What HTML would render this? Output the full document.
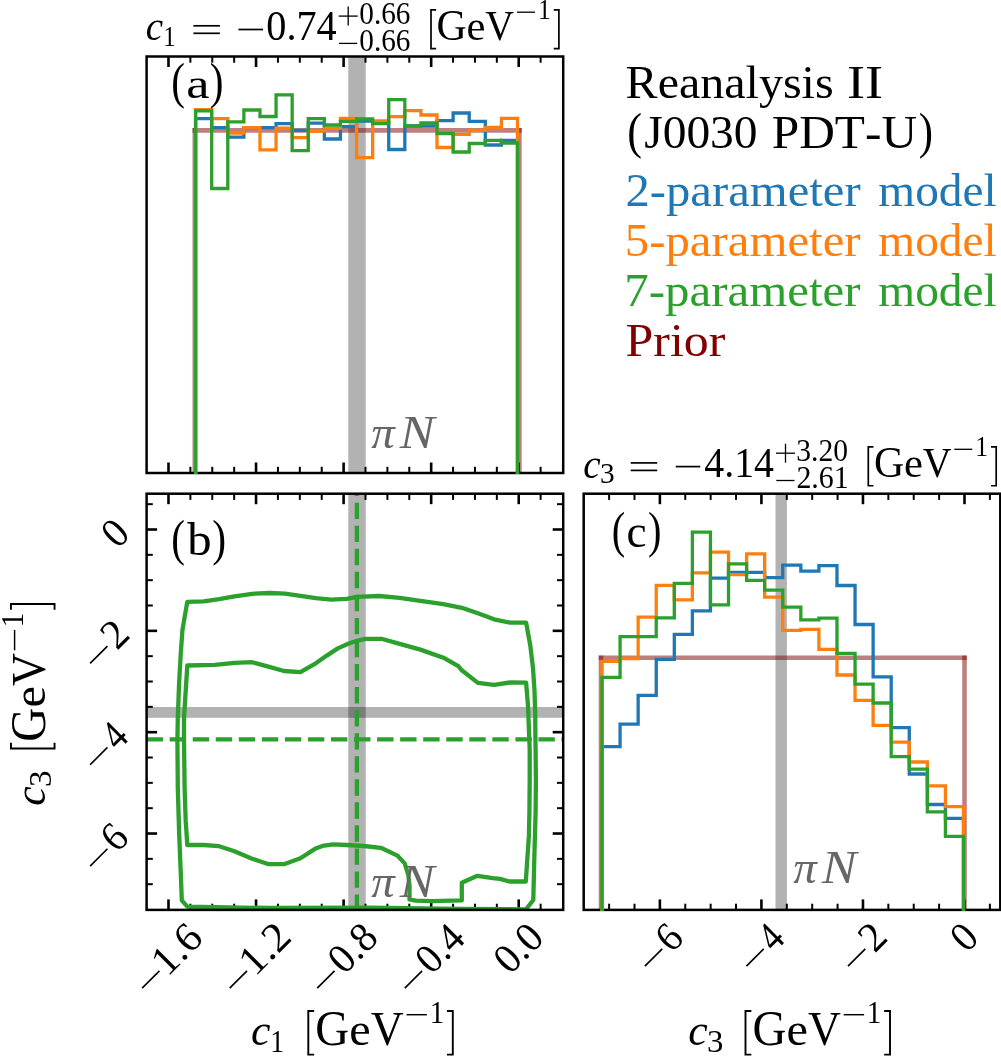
<!DOCTYPE html>
<html><head><meta charset="utf-8"><title>corner plot</title>
<style>html,body{margin:0;padding:0;background:#fff}svg{display:block;will-change:transform}text{font-family:"Liberation Serif",serif;font-kerning:none;white-space:pre}</style></head>
<body>
<svg width="1001" height="1056" viewBox="0 0 1001 1056">
<rect x="0" y="0" width="1001" height="1056" fill="#fff"/>
<defs><clipPath id="ca"><rect x="146.6" y="56.5" width="416.6" height="417.6"/></clipPath><clipPath id="cb"><rect x="146.6" y="493.7" width="416.6" height="416.2"/></clipPath><clipPath id="cc"><rect x="583.7" y="493.7" width="416.5999999999999" height="417.3"/></clipPath></defs>
<rect x="348.3" y="56.5" width="17.4" height="416.5" fill="#000" fill-opacity="0.3"/>
<rect x="348.3" y="493.7" width="17.4" height="416.2" fill="#000" fill-opacity="0.3"/>
<rect x="146.6" y="707.0" width="416.6" height="10.8" fill="#000" fill-opacity="0.3"/>
<rect x="775.5" y="493.7" width="11.4" height="416.2" fill="#000" fill-opacity="0.3"/>
<g clip-path="url(#ca)" stroke="#800000" stroke-opacity="0.5" stroke-width="4.6"><line x1="194.8" y1="473.0" x2="194.8" y2="128.1"/><line x1="192.5" y1="130.4" x2="521.6999999999999" y2="130.4"/><line x1="519.4" y1="473.0" x2="519.4" y2="128.1"/></g>
<g clip-path="url(#cc)" stroke="#800000" stroke-opacity="0.5" stroke-width="4.6"><line x1="601.0" y1="909.9" x2="601.0" y2="655.5"/><line x1="598.7" y1="657.8" x2="966.8" y2="657.8"/><line x1="964.5" y1="909.9" x2="964.5" y2="655.5"/></g>
<line x1="190.38" y1="493.70" x2="190.38" y2="499.90" stroke="#000" stroke-width="2.0"/>
<line x1="190.38" y1="909.90" x2="190.38" y2="903.70" stroke="#000" stroke-width="2.0"/>
<line x1="212.27" y1="493.70" x2="212.27" y2="499.90" stroke="#000" stroke-width="2.0"/>
<line x1="212.27" y1="909.90" x2="212.27" y2="903.70" stroke="#000" stroke-width="2.0"/>
<line x1="234.16" y1="493.70" x2="234.16" y2="499.90" stroke="#000" stroke-width="2.0"/>
<line x1="234.16" y1="909.90" x2="234.16" y2="903.70" stroke="#000" stroke-width="2.0"/>
<line x1="277.94" y1="493.70" x2="277.94" y2="499.90" stroke="#000" stroke-width="2.0"/>
<line x1="277.94" y1="909.90" x2="277.94" y2="903.70" stroke="#000" stroke-width="2.0"/>
<line x1="299.83" y1="493.70" x2="299.83" y2="499.90" stroke="#000" stroke-width="2.0"/>
<line x1="299.83" y1="909.90" x2="299.83" y2="903.70" stroke="#000" stroke-width="2.0"/>
<line x1="321.72" y1="493.70" x2="321.72" y2="499.90" stroke="#000" stroke-width="2.0"/>
<line x1="321.72" y1="909.90" x2="321.72" y2="903.70" stroke="#000" stroke-width="2.0"/>
<line x1="365.50" y1="493.70" x2="365.50" y2="499.90" stroke="#000" stroke-width="2.0"/>
<line x1="365.50" y1="909.90" x2="365.50" y2="903.70" stroke="#000" stroke-width="2.0"/>
<line x1="387.39" y1="493.70" x2="387.39" y2="499.90" stroke="#000" stroke-width="2.0"/>
<line x1="387.39" y1="909.90" x2="387.39" y2="903.70" stroke="#000" stroke-width="2.0"/>
<line x1="409.28" y1="493.70" x2="409.28" y2="499.90" stroke="#000" stroke-width="2.0"/>
<line x1="409.28" y1="909.90" x2="409.28" y2="903.70" stroke="#000" stroke-width="2.0"/>
<line x1="453.06" y1="493.70" x2="453.06" y2="499.90" stroke="#000" stroke-width="2.0"/>
<line x1="453.06" y1="909.90" x2="453.06" y2="903.70" stroke="#000" stroke-width="2.0"/>
<line x1="474.95" y1="493.70" x2="474.95" y2="499.90" stroke="#000" stroke-width="2.0"/>
<line x1="474.95" y1="909.90" x2="474.95" y2="903.70" stroke="#000" stroke-width="2.0"/>
<line x1="496.84" y1="493.70" x2="496.84" y2="499.90" stroke="#000" stroke-width="2.0"/>
<line x1="496.84" y1="909.90" x2="496.84" y2="903.70" stroke="#000" stroke-width="2.0"/>
<line x1="540.62" y1="493.70" x2="540.62" y2="499.90" stroke="#000" stroke-width="2.0"/>
<line x1="540.62" y1="909.90" x2="540.62" y2="903.70" stroke="#000" stroke-width="2.0"/>
<line x1="168.49" y1="493.70" x2="168.49" y2="504.20" stroke="#000" stroke-width="2.6"/>
<line x1="168.49" y1="909.90" x2="168.49" y2="899.40" stroke="#000" stroke-width="2.6"/>
<line x1="256.05" y1="493.70" x2="256.05" y2="504.20" stroke="#000" stroke-width="2.6"/>
<line x1="256.05" y1="909.90" x2="256.05" y2="899.40" stroke="#000" stroke-width="2.6"/>
<line x1="343.61" y1="493.70" x2="343.61" y2="504.20" stroke="#000" stroke-width="2.6"/>
<line x1="343.61" y1="909.90" x2="343.61" y2="899.40" stroke="#000" stroke-width="2.6"/>
<line x1="431.17" y1="493.70" x2="431.17" y2="504.20" stroke="#000" stroke-width="2.6"/>
<line x1="431.17" y1="909.90" x2="431.17" y2="899.40" stroke="#000" stroke-width="2.6"/>
<line x1="518.73" y1="493.70" x2="518.73" y2="504.20" stroke="#000" stroke-width="2.6"/>
<line x1="518.73" y1="909.90" x2="518.73" y2="899.40" stroke="#000" stroke-width="2.6"/>
<line x1="146.60" y1="884.19" x2="152.80" y2="884.19" stroke="#000" stroke-width="2.0"/>
<line x1="563.20" y1="884.19" x2="557.00" y2="884.19" stroke="#000" stroke-width="2.0"/>
<line x1="146.60" y1="858.86" x2="152.80" y2="858.86" stroke="#000" stroke-width="2.0"/>
<line x1="563.20" y1="858.86" x2="557.00" y2="858.86" stroke="#000" stroke-width="2.0"/>
<line x1="146.60" y1="808.18" x2="152.80" y2="808.18" stroke="#000" stroke-width="2.0"/>
<line x1="563.20" y1="808.18" x2="557.00" y2="808.18" stroke="#000" stroke-width="2.0"/>
<line x1="146.60" y1="782.85" x2="152.80" y2="782.85" stroke="#000" stroke-width="2.0"/>
<line x1="563.20" y1="782.85" x2="557.00" y2="782.85" stroke="#000" stroke-width="2.0"/>
<line x1="146.60" y1="757.51" x2="152.80" y2="757.51" stroke="#000" stroke-width="2.0"/>
<line x1="563.20" y1="757.51" x2="557.00" y2="757.51" stroke="#000" stroke-width="2.0"/>
<line x1="146.60" y1="706.85" x2="152.80" y2="706.85" stroke="#000" stroke-width="2.0"/>
<line x1="563.20" y1="706.85" x2="557.00" y2="706.85" stroke="#000" stroke-width="2.0"/>
<line x1="146.60" y1="681.51" x2="152.80" y2="681.51" stroke="#000" stroke-width="2.0"/>
<line x1="563.20" y1="681.51" x2="557.00" y2="681.51" stroke="#000" stroke-width="2.0"/>
<line x1="146.60" y1="656.17" x2="152.80" y2="656.17" stroke="#000" stroke-width="2.0"/>
<line x1="563.20" y1="656.17" x2="557.00" y2="656.17" stroke="#000" stroke-width="2.0"/>
<line x1="146.60" y1="605.50" x2="152.80" y2="605.50" stroke="#000" stroke-width="2.0"/>
<line x1="563.20" y1="605.50" x2="557.00" y2="605.50" stroke="#000" stroke-width="2.0"/>
<line x1="146.60" y1="580.17" x2="152.80" y2="580.17" stroke="#000" stroke-width="2.0"/>
<line x1="563.20" y1="580.17" x2="557.00" y2="580.17" stroke="#000" stroke-width="2.0"/>
<line x1="146.60" y1="554.84" x2="152.80" y2="554.84" stroke="#000" stroke-width="2.0"/>
<line x1="563.20" y1="554.84" x2="557.00" y2="554.84" stroke="#000" stroke-width="2.0"/>
<line x1="146.60" y1="504.17" x2="152.80" y2="504.17" stroke="#000" stroke-width="2.0"/>
<line x1="563.20" y1="504.17" x2="557.00" y2="504.17" stroke="#000" stroke-width="2.0"/>
<line x1="146.60" y1="833.52" x2="157.10" y2="833.52" stroke="#000" stroke-width="2.6"/>
<line x1="563.20" y1="833.52" x2="552.70" y2="833.52" stroke="#000" stroke-width="2.6"/>
<line x1="146.60" y1="732.18" x2="157.10" y2="732.18" stroke="#000" stroke-width="2.6"/>
<line x1="563.20" y1="732.18" x2="552.70" y2="732.18" stroke="#000" stroke-width="2.6"/>
<line x1="146.60" y1="630.84" x2="157.10" y2="630.84" stroke="#000" stroke-width="2.6"/>
<line x1="563.20" y1="630.84" x2="552.70" y2="630.84" stroke="#000" stroke-width="2.6"/>
<line x1="146.60" y1="529.50" x2="157.10" y2="529.50" stroke="#000" stroke-width="2.6"/>
<line x1="563.20" y1="529.50" x2="552.70" y2="529.50" stroke="#000" stroke-width="2.6"/>
<polygon points="187.3,601.8 203.7,601.3 219.1,599.1 234.5,596.3 252.1,593.8 269.7,593.0 285.0,593.6 300.4,595.8 315.8,598.2 331.2,599.6 346.6,598.9 357.2,596.8 379.0,596.0 399.7,597.9 420.4,600.9 443.4,604.1 461.8,607.8 477.9,613.3 494.0,619.3 510.0,622.7 526.1,622.6 530.3,645.5 533.0,668.2 534.5,690.9 535.2,713.6 535.4,736.4 535.6,750.0 535.9,781.3 535.6,812.5 534.7,843.8 533.9,875.0 533.3,900.0 526.0,909.3 460.0,909.0 370.0,907.7 270.0,908.0 187.3,906.7 181.8,900.4 180.7,871.4 179.1,831.9 177.8,787.9 177.4,739.6 177.8,718.0 179.1,683.0 180.7,654.5 182.4,630.3 185.0,615.0" fill="none" stroke="#2ca02c" stroke-width="4.3" stroke-linejoin="round" clip-path="url(#cb)"/>
<polygon points="187.3,665.5 214.7,664.8 234.5,662.9 252.1,662.2 267.5,666.4 284.0,671.0 300.4,672.1 315.8,663.3 326.8,655.6 337.8,648.4 348.8,643.5 357.0,640.8 365.3,638.8 381.4,638.8 399.7,643.9 420.4,649.6 443.4,657.7 458.3,666.2 461.8,670.3 477.9,682.9 494.0,684.8 510.0,682.5 526.1,682.6 528.0,706.0 529.2,736.4 529.7,750.0 529.7,781.3 529.4,812.5 528.9,835.9 527.3,859.4 525.8,881.5 509.4,881.5 500.0,878.9 492.8,878.1 477.4,875.8 461.8,882.7 461.8,900.4 431.9,901.2 415.8,900.6 409.5,899.4 409.5,885.6 408.3,874.8 404.7,863.4 397.5,855.6 380.8,847.8 364.0,846.0 346.6,845.0 333.4,844.4 322.4,845.9 315.8,848.4 300.4,858.2 284.0,864.2 268.6,864.2 252.1,858.7 234.5,851.2 219.1,846.2 203.7,845.0 187.3,845.0 185.7,820.9 184.6,787.9 184.0,739.6 184.0,718.0 186.2,683.0" fill="none" stroke="#2ca02c" stroke-width="4.3" stroke-linejoin="round" clip-path="url(#cb)"/>
<line x1="356.9" y1="910.9" x2="356.9" y2="493.7" stroke="#2ca02c" stroke-width="4.3" stroke-dasharray="16.4 6.65"/>
<line x1="146.6" y1="739.3" x2="563.2" y2="739.3" stroke="#2ca02c" stroke-width="4.3" stroke-dasharray="16.4 6.65"/>
<line x1="190.38" y1="56.50" x2="190.38" y2="62.70" stroke="#000" stroke-width="2.0"/>
<line x1="190.38" y1="473.00" x2="190.38" y2="466.80" stroke="#000" stroke-width="2.0"/>
<line x1="212.27" y1="56.50" x2="212.27" y2="62.70" stroke="#000" stroke-width="2.0"/>
<line x1="212.27" y1="473.00" x2="212.27" y2="466.80" stroke="#000" stroke-width="2.0"/>
<line x1="234.16" y1="56.50" x2="234.16" y2="62.70" stroke="#000" stroke-width="2.0"/>
<line x1="234.16" y1="473.00" x2="234.16" y2="466.80" stroke="#000" stroke-width="2.0"/>
<line x1="277.94" y1="56.50" x2="277.94" y2="62.70" stroke="#000" stroke-width="2.0"/>
<line x1="277.94" y1="473.00" x2="277.94" y2="466.80" stroke="#000" stroke-width="2.0"/>
<line x1="299.83" y1="56.50" x2="299.83" y2="62.70" stroke="#000" stroke-width="2.0"/>
<line x1="299.83" y1="473.00" x2="299.83" y2="466.80" stroke="#000" stroke-width="2.0"/>
<line x1="321.72" y1="56.50" x2="321.72" y2="62.70" stroke="#000" stroke-width="2.0"/>
<line x1="321.72" y1="473.00" x2="321.72" y2="466.80" stroke="#000" stroke-width="2.0"/>
<line x1="365.50" y1="56.50" x2="365.50" y2="62.70" stroke="#000" stroke-width="2.0"/>
<line x1="365.50" y1="473.00" x2="365.50" y2="466.80" stroke="#000" stroke-width="2.0"/>
<line x1="387.39" y1="56.50" x2="387.39" y2="62.70" stroke="#000" stroke-width="2.0"/>
<line x1="387.39" y1="473.00" x2="387.39" y2="466.80" stroke="#000" stroke-width="2.0"/>
<line x1="409.28" y1="56.50" x2="409.28" y2="62.70" stroke="#000" stroke-width="2.0"/>
<line x1="409.28" y1="473.00" x2="409.28" y2="466.80" stroke="#000" stroke-width="2.0"/>
<line x1="453.06" y1="56.50" x2="453.06" y2="62.70" stroke="#000" stroke-width="2.0"/>
<line x1="453.06" y1="473.00" x2="453.06" y2="466.80" stroke="#000" stroke-width="2.0"/>
<line x1="474.95" y1="56.50" x2="474.95" y2="62.70" stroke="#000" stroke-width="2.0"/>
<line x1="474.95" y1="473.00" x2="474.95" y2="466.80" stroke="#000" stroke-width="2.0"/>
<line x1="496.84" y1="56.50" x2="496.84" y2="62.70" stroke="#000" stroke-width="2.0"/>
<line x1="496.84" y1="473.00" x2="496.84" y2="466.80" stroke="#000" stroke-width="2.0"/>
<line x1="540.62" y1="56.50" x2="540.62" y2="62.70" stroke="#000" stroke-width="2.0"/>
<line x1="540.62" y1="473.00" x2="540.62" y2="466.80" stroke="#000" stroke-width="2.0"/>
<line x1="168.49" y1="56.50" x2="168.49" y2="67.00" stroke="#000" stroke-width="2.6"/>
<line x1="168.49" y1="473.00" x2="168.49" y2="462.50" stroke="#000" stroke-width="2.6"/>
<line x1="256.05" y1="56.50" x2="256.05" y2="67.00" stroke="#000" stroke-width="2.6"/>
<line x1="256.05" y1="473.00" x2="256.05" y2="462.50" stroke="#000" stroke-width="2.6"/>
<line x1="343.61" y1="56.50" x2="343.61" y2="67.00" stroke="#000" stroke-width="2.6"/>
<line x1="343.61" y1="473.00" x2="343.61" y2="462.50" stroke="#000" stroke-width="2.6"/>
<line x1="431.17" y1="56.50" x2="431.17" y2="67.00" stroke="#000" stroke-width="2.6"/>
<line x1="431.17" y1="473.00" x2="431.17" y2="462.50" stroke="#000" stroke-width="2.6"/>
<line x1="518.73" y1="56.50" x2="518.73" y2="67.00" stroke="#000" stroke-width="2.6"/>
<line x1="518.73" y1="473.00" x2="518.73" y2="462.50" stroke="#000" stroke-width="2.6"/>
<line x1="609.11" y1="493.70" x2="609.11" y2="499.90" stroke="#000" stroke-width="2.0"/>
<line x1="609.11" y1="909.90" x2="609.11" y2="903.70" stroke="#000" stroke-width="2.0"/>
<line x1="634.50" y1="493.70" x2="634.50" y2="499.90" stroke="#000" stroke-width="2.0"/>
<line x1="634.50" y1="909.90" x2="634.50" y2="903.70" stroke="#000" stroke-width="2.0"/>
<line x1="685.26" y1="493.70" x2="685.26" y2="499.90" stroke="#000" stroke-width="2.0"/>
<line x1="685.26" y1="909.90" x2="685.26" y2="903.70" stroke="#000" stroke-width="2.0"/>
<line x1="710.65" y1="493.70" x2="710.65" y2="499.90" stroke="#000" stroke-width="2.0"/>
<line x1="710.65" y1="909.90" x2="710.65" y2="903.70" stroke="#000" stroke-width="2.0"/>
<line x1="736.03" y1="493.70" x2="736.03" y2="499.90" stroke="#000" stroke-width="2.0"/>
<line x1="736.03" y1="909.90" x2="736.03" y2="903.70" stroke="#000" stroke-width="2.0"/>
<line x1="786.80" y1="493.70" x2="786.80" y2="499.90" stroke="#000" stroke-width="2.0"/>
<line x1="786.80" y1="909.90" x2="786.80" y2="903.70" stroke="#000" stroke-width="2.0"/>
<line x1="812.19" y1="493.70" x2="812.19" y2="499.90" stroke="#000" stroke-width="2.0"/>
<line x1="812.19" y1="909.90" x2="812.19" y2="903.70" stroke="#000" stroke-width="2.0"/>
<line x1="837.58" y1="493.70" x2="837.58" y2="499.90" stroke="#000" stroke-width="2.0"/>
<line x1="837.58" y1="909.90" x2="837.58" y2="903.70" stroke="#000" stroke-width="2.0"/>
<line x1="888.35" y1="493.70" x2="888.35" y2="499.90" stroke="#000" stroke-width="2.0"/>
<line x1="888.35" y1="909.90" x2="888.35" y2="903.70" stroke="#000" stroke-width="2.0"/>
<line x1="913.73" y1="493.70" x2="913.73" y2="499.90" stroke="#000" stroke-width="2.0"/>
<line x1="913.73" y1="909.90" x2="913.73" y2="903.70" stroke="#000" stroke-width="2.0"/>
<line x1="939.12" y1="493.70" x2="939.12" y2="499.90" stroke="#000" stroke-width="2.0"/>
<line x1="939.12" y1="909.90" x2="939.12" y2="903.70" stroke="#000" stroke-width="2.0"/>
<line x1="989.88" y1="493.70" x2="989.88" y2="499.90" stroke="#000" stroke-width="2.0"/>
<line x1="989.88" y1="909.90" x2="989.88" y2="903.70" stroke="#000" stroke-width="2.0"/>
<line x1="659.88" y1="493.70" x2="659.88" y2="504.20" stroke="#000" stroke-width="2.6"/>
<line x1="659.88" y1="909.90" x2="659.88" y2="899.40" stroke="#000" stroke-width="2.6"/>
<line x1="761.42" y1="493.70" x2="761.42" y2="504.20" stroke="#000" stroke-width="2.6"/>
<line x1="761.42" y1="909.90" x2="761.42" y2="899.40" stroke="#000" stroke-width="2.6"/>
<line x1="862.96" y1="493.70" x2="862.96" y2="504.20" stroke="#000" stroke-width="2.6"/>
<line x1="862.96" y1="909.90" x2="862.96" y2="899.40" stroke="#000" stroke-width="2.6"/>
<line x1="964.50" y1="493.70" x2="964.50" y2="504.20" stroke="#000" stroke-width="2.6"/>
<line x1="964.50" y1="909.90" x2="964.50" y2="899.40" stroke="#000" stroke-width="2.6"/>
<rect x="146.6" y="56.5" width="416.6" height="416.5" fill="none" stroke="#000" stroke-width="2.5"/>
<rect x="146.6" y="493.7" width="416.6" height="416.2" fill="none" stroke="#000" stroke-width="2.5"/>
<rect x="583.7" y="493.7" width="416.5999999999999" height="416.2" fill="none" stroke="#000" stroke-width="2.5"/>
<polyline points="195.60,476.00 195.60,118.70 211.69,118.70 211.69,127.70 227.79,127.70 227.79,137.20 243.88,137.20 243.88,127.70 259.98,127.70 259.98,127.70 276.07,127.70 276.07,123.70 292.17,123.70 292.17,130.40 308.26,130.40 308.26,123.20 324.36,123.20 324.36,139.00 340.45,139.00 340.45,126.70 356.55,126.70 356.55,121.00 372.64,121.00 372.64,123.00 388.74,123.00 388.74,149.50 404.83,149.50 404.83,126.00 420.93,126.00 420.93,126.00 437.02,126.00 437.02,120.60 453.12,120.60 453.12,113.00 469.22,113.00 469.22,121.40 485.31,121.40 485.31,145.00 501.40,145.00 501.40,140.50 517.50,140.50 517.50,476.00" fill="none" stroke="#1f77b4" stroke-width="3.3" stroke-linejoin="miter" clip-path="url(#ca)"/>
<polyline points="195.60,476.00 195.60,109.70 211.69,109.70 211.69,118.70 227.79,118.70 227.79,133.00 243.88,133.00 243.88,127.70 259.98,127.70 259.98,149.80 276.07,149.80 276.07,128.20 292.17,128.20 292.17,137.60 308.26,137.60 308.26,131.00 324.36,131.00 324.36,128.20 340.45,128.20 340.45,118.30 356.55,118.30 356.55,157.60 372.64,157.60 372.64,121.00 388.74,121.00 388.74,116.60 404.83,116.60 404.83,110.60 420.93,110.60 420.93,115.00 437.02,115.00 437.02,147.50 453.12,147.50 453.12,134.30 469.22,134.30 469.22,130.30 485.31,130.30 485.31,127.40 501.40,127.40 501.40,118.40 517.50,118.40 517.50,476.00" fill="none" stroke="#ff7f0e" stroke-width="3.3" stroke-linejoin="miter" clip-path="url(#ca)"/>
<polyline points="195.60,476.00 195.60,110.90 211.69,110.90 211.69,188.50 227.79,188.50 227.79,121.90 243.88,121.90 243.88,110.00 259.98,110.00 259.98,116.50 276.07,116.50 276.07,94.80 292.17,94.80 292.17,150.70 308.26,150.70 308.26,118.70 324.36,118.70 324.36,125.00 340.45,125.00 340.45,121.40 356.55,121.40 356.55,119.00 372.64,119.00 372.64,123.60 388.74,123.60 388.74,99.60 404.83,99.60 404.83,126.00 420.93,126.00 420.93,123.00 437.02,123.00 437.02,133.50 453.12,133.50 453.12,152.00 469.22,152.00 469.22,143.50 485.31,143.50 485.31,140.30 501.40,140.30 501.40,143.00 517.50,143.00 517.50,476.00" fill="none" stroke="#2ca02c" stroke-width="3.3" stroke-linejoin="miter" clip-path="url(#ca)"/>
<polyline points="602.00,912.90 602.00,746.60 620.08,746.60 620.08,724.10 638.15,724.10 638.15,695.30 656.23,695.30 656.23,659.40 674.30,659.40 674.30,634.40 692.38,634.40 692.38,610.90 710.45,610.90 710.45,578.10 728.52,578.10 728.52,572.30 746.60,572.30 746.60,572.30 764.67,572.30 764.67,577.60 782.75,577.60 782.75,565.10 800.83,565.10 800.83,571.10 818.90,571.10 818.90,565.60 836.98,565.60 836.98,585.50 855.05,585.50 855.05,624.50 873.12,624.50 873.12,676.80 891.20,676.80 891.20,727.60 909.27,727.60 909.27,774.00 927.35,774.00 927.35,804.50 945.42,804.50 945.42,818.30 963.50,818.30 963.50,912.90" fill="none" stroke="#1f77b4" stroke-width="3.3" stroke-linejoin="miter" clip-path="url(#cc)"/>
<polyline points="602.00,912.90 602.00,661.30 620.08,661.30 620.08,658.50 638.15,658.50 638.15,617.10 656.23,617.10 656.23,585.40 674.30,585.40 674.30,599.90 692.38,599.90 692.38,572.80 710.45,572.80 710.45,552.10 728.52,552.10 728.52,574.60 746.60,574.60 746.60,553.90 764.67,553.90 764.67,597.10 782.75,597.10 782.75,630.40 800.83,630.40 800.83,629.40 818.90,629.40 818.90,649.40 836.98,649.40 836.98,675.00 855.05,675.00 855.05,700.40 873.12,700.40 873.12,725.40 891.20,725.40 891.20,742.10 909.27,742.10 909.27,762.00 927.35,762.00 927.35,785.90 945.42,785.90 945.42,806.60 963.50,806.60 963.50,912.90" fill="none" stroke="#ff7f0e" stroke-width="3.3" stroke-linejoin="miter" clip-path="url(#cc)"/>
<polyline points="602.00,912.90 602.00,677.30 620.08,677.30 620.08,636.70 638.15,636.70 638.15,636.70 656.23,636.70 656.23,617.80 674.30,617.80 674.30,583.30 692.38,583.30 692.38,532.10 710.45,532.10 710.45,604.90 728.52,604.90 728.52,563.80 746.60,563.80 746.60,580.40 764.67,580.40 764.67,590.20 782.75,590.20 782.75,607.20 800.83,607.20 800.83,619.90 818.90,619.90 818.90,618.10 836.98,618.10 836.98,653.30 855.05,653.30 855.05,684.10 873.12,684.10 873.12,703.00 891.20,703.00 891.20,756.70 909.27,756.70 909.27,769.20 927.35,769.20 927.35,811.90 945.42,811.90 945.42,836.30 963.50,836.30 963.50,912.90" fill="none" stroke="#2ca02c" stroke-width="3.3" stroke-linejoin="miter" clip-path="url(#cc)"/>
<text x="625.62" y="98.40" font-size="46.31" fill="#000" textLength="208.02" lengthAdjust="spacingAndGlyphs">Reanalysis</text>
<text x="846.94" y="98.40" font-size="46.31" fill="#000" textLength="36.06" lengthAdjust="spacingAndGlyphs">II</text>
<text x="627.35" y="148.20" font-size="49.94" fill="#000" textLength="14.78" lengthAdjust="spacingAndGlyphs">(</text>
<text x="644.20" y="148.00" font-size="46.76" fill="#000" textLength="113.40" lengthAdjust="spacingAndGlyphs">J0030</text>
<text x="771.78" y="148.00" font-size="46.76" fill="#000" textLength="145.26" lengthAdjust="spacingAndGlyphs">PDT-U</text>
<text x="918.72" y="148.20" font-size="49.94" fill="#000" textLength="14.26" lengthAdjust="spacingAndGlyphs">)</text>
<text x="625.46" y="206.40" font-size="46.31" fill="#1f77b4" textLength="235.17" lengthAdjust="spacingAndGlyphs">2-parameter</text>
<text x="878.31" y="206.40" font-size="46.31" fill="#1f77b4" textLength="118.44" lengthAdjust="spacingAndGlyphs">model</text>
<text x="624.76" y="255.90" font-size="46.31" fill="#ff7f0e" textLength="235.87" lengthAdjust="spacingAndGlyphs">5-parameter</text>
<text x="878.31" y="255.90" font-size="46.31" fill="#ff7f0e" textLength="118.44" lengthAdjust="spacingAndGlyphs">model</text>
<text x="624.38" y="305.90" font-size="46.31" fill="#2ca02c" textLength="236.25" lengthAdjust="spacingAndGlyphs">7-parameter</text>
<text x="878.31" y="305.90" font-size="46.31" fill="#2ca02c" textLength="118.44" lengthAdjust="spacingAndGlyphs">model</text>
<text x="625.56" y="355.80" font-size="46.31" fill="#800000" textLength="99.78" lengthAdjust="spacingAndGlyphs">Prior</text>
<text x="171.29" y="98.20" font-size="49.94" fill="#000" textLength="13.74" lengthAdjust="spacingAndGlyphs">(</text>
<text x="186.16" y="98.00" font-size="43.13" fill="#000" textLength="23.26" lengthAdjust="spacingAndGlyphs">a</text>
<text x="209.87" y="98.20" font-size="49.94" fill="#000" textLength="13.74" lengthAdjust="spacingAndGlyphs">)</text>
<text x="171.29" y="554.90" font-size="49.94" fill="#000" textLength="13.74" lengthAdjust="spacingAndGlyphs">(</text>
<text x="187.20" y="554.70" font-size="45.40" fill="#000" textLength="24.36" lengthAdjust="spacingAndGlyphs">b</text>
<text x="212.36" y="554.90" font-size="49.94" fill="#000" textLength="13.87" lengthAdjust="spacingAndGlyphs">)</text>
<text x="611.72" y="546.70" font-size="49.94" fill="#000" textLength="13.48" lengthAdjust="spacingAndGlyphs">(</text>
<text x="626.47" y="546.50" font-size="45.40" fill="#000" textLength="20.12" lengthAdjust="spacingAndGlyphs">c</text>
<text x="647.90" y="546.70" font-size="49.94" fill="#000" textLength="13.48" lengthAdjust="spacingAndGlyphs">)</text>
<text x="371.15" y="447.70" font-size="46.31" font-style="italic" fill="#666" textLength="23.48" lengthAdjust="spacingAndGlyphs">π</text>
<text x="399.68" y="447.70" font-size="46.31" font-style="italic" fill="#666" textLength="34.80" lengthAdjust="spacingAndGlyphs">N</text>
<text x="371.15" y="897.30" font-size="46.31" font-style="italic" fill="#666" textLength="23.48" lengthAdjust="spacingAndGlyphs">π</text>
<text x="399.68" y="897.30" font-size="46.31" font-style="italic" fill="#666" textLength="34.80" lengthAdjust="spacingAndGlyphs">N</text>
<text x="793.15" y="882.80" font-size="46.31" font-style="italic" fill="#666" textLength="23.48" lengthAdjust="spacingAndGlyphs">π</text>
<text x="821.68" y="882.80" font-size="46.31" font-style="italic" fill="#666" textLength="34.80" lengthAdjust="spacingAndGlyphs">N</text>
<text x="250.95" y="1044.60" font-size="44.04" font-style="italic" fill="#000" textLength="19.48" lengthAdjust="spacingAndGlyphs">c</text>
<text x="270.31" y="1051.50" font-size="32.42" fill="#000" textLength="13.89" lengthAdjust="spacingAndGlyphs">1</text>
<path d="M314.15,1011.05 H308.30 V1054.65 H314.15" fill="none" stroke="#000" stroke-width="1.91"/>
<path d="M446.95,1011.05 H452.80 V1054.65 H446.95" fill="none" stroke="#000" stroke-width="1.91"/>
<text x="315.18" y="1045.10" font-size="49.94" fill="#000" textLength="33.89" lengthAdjust="spacingAndGlyphs">G</text>
<text x="349.31" y="1044.80" font-size="45.40" fill="#000" textLength="21.47" lengthAdjust="spacingAndGlyphs">e</text>
<text x="370.79" y="1045.10" font-size="48.12" fill="#000" textLength="32.92" lengthAdjust="spacingAndGlyphs">V</text>
<line x1="406.50" y1="1014.70" x2="426.90" y2="1014.70" stroke="#000" stroke-width="1.468236"/>
<text x="429.65" y="1022.80" font-size="32.42" fill="#000" textLength="14.49" lengthAdjust="spacingAndGlyphs">1</text>
<text x="688.15" y="1044.60" font-size="44.04" font-style="italic" fill="#000" textLength="19.48" lengthAdjust="spacingAndGlyphs">c</text>
<text x="706.99" y="1051.50" font-size="32.42" fill="#000" textLength="16.43" lengthAdjust="spacingAndGlyphs">3</text>
<path d="M751.35,1011.05 H745.50 V1054.65 H751.35" fill="none" stroke="#000" stroke-width="1.91"/>
<path d="M884.15,1011.05 H890.00 V1054.65 H884.15" fill="none" stroke="#000" stroke-width="1.91"/>
<text x="752.38" y="1045.10" font-size="49.94" fill="#000" textLength="33.89" lengthAdjust="spacingAndGlyphs">G</text>
<text x="786.51" y="1044.80" font-size="45.40" fill="#000" textLength="21.47" lengthAdjust="spacingAndGlyphs">e</text>
<text x="807.99" y="1045.10" font-size="48.12" fill="#000" textLength="32.92" lengthAdjust="spacingAndGlyphs">V</text>
<line x1="843.70" y1="1014.70" x2="864.10" y2="1014.70" stroke="#000" stroke-width="1.468236"/>
<text x="866.85" y="1022.80" font-size="32.42" fill="#000" textLength="14.49" lengthAdjust="spacingAndGlyphs">1</text>
<g transform="translate(44.5,804.8) rotate(-90)">
<text x="-1.05" y="0.00" font-size="44.04" font-style="italic" fill="#000" textLength="19.48" lengthAdjust="spacingAndGlyphs">c</text>
<text x="17.79" y="6.90" font-size="32.42" fill="#000" textLength="16.43" lengthAdjust="spacingAndGlyphs">3</text>
<path d="M62.15,-33.55 H56.30 V10.05 H62.15" fill="none" stroke="#000" stroke-width="1.91"/>
<path d="M194.95,-33.55 H200.80 V10.05 H194.95" fill="none" stroke="#000" stroke-width="1.91"/>
<text x="63.18" y="0.50" font-size="49.94" fill="#000" textLength="33.89" lengthAdjust="spacingAndGlyphs">G</text>
<text x="97.31" y="0.20" font-size="45.40" fill="#000" textLength="21.47" lengthAdjust="spacingAndGlyphs">e</text>
<text x="118.79" y="0.50" font-size="48.12" fill="#000" textLength="32.92" lengthAdjust="spacingAndGlyphs">V</text>
<line x1="154.50" y1="-29.90" x2="174.90" y2="-29.90" stroke="#000" stroke-width="1.468236"/>
<text x="177.65" y="-21.80" font-size="32.42" fill="#000" textLength="14.49" lengthAdjust="spacingAndGlyphs">1</text>
</g>
<text x="145.86" y="40.40" font-size="39.28" font-style="italic" fill="#000" textLength="17.38" lengthAdjust="spacingAndGlyphs">c</text>
<text x="163.14" y="45.56" font-size="28.92" fill="#000" textLength="12.39" lengthAdjust="spacingAndGlyphs">1</text>
<line x1="193.40" y1="25.80" x2="219.90" y2="25.80" stroke="#000" stroke-width="1.701"/>
<line x1="193.40" y1="33.30" x2="219.90" y2="33.30" stroke="#000" stroke-width="1.701"/>
<line x1="238.40" y1="29.50" x2="263.00" y2="29.50" stroke="#000" stroke-width="1.701"/>
<text x="266.27" y="40.10" font-size="42.12" fill="#000" textLength="70.46" lengthAdjust="spacingAndGlyphs">0.74</text>
<line x1="338.70" y1="16.10" x2="357.70" y2="16.10" stroke="#000" stroke-width="1.3097699999999999"/>
<line x1="348.20" y1="6.60" x2="348.20" y2="25.60" stroke="#000" stroke-width="1.3097699999999999"/>
<text x="359.29" y="23.90" font-size="30.90" fill="#000" textLength="51.19" lengthAdjust="spacingAndGlyphs">0.66</text>
<line x1="339.00" y1="43.40" x2="357.20" y2="43.40" stroke="#000" stroke-width="1.3097699999999999"/>
<text x="359.29" y="51.00" font-size="30.90" fill="#000" textLength="51.19" lengthAdjust="spacingAndGlyphs">0.66</text>
<path d="M436.15,9.85 H431.00 V48.65 H436.15" fill="none" stroke="#000" stroke-width="1.70"/>
<path d="M553.75,9.85 H558.90 V48.65 H553.75" fill="none" stroke="#000" stroke-width="1.70"/>
<text x="436.58" y="39.90" font-size="44.55" fill="#000" textLength="30.22" lengthAdjust="spacingAndGlyphs">G</text>
<text x="466.63" y="39.60" font-size="40.50" fill="#000" textLength="18.95" lengthAdjust="spacingAndGlyphs">e</text>
<text x="485.35" y="39.90" font-size="42.93" fill="#000" textLength="28.80" lengthAdjust="spacingAndGlyphs">V</text>
<line x1="517.00" y1="12.20" x2="535.00" y2="12.20" stroke="#000" stroke-width="1.3097699999999999"/>
<text x="537.95" y="18.70" font-size="28.92" fill="#000" textLength="12.78" lengthAdjust="spacingAndGlyphs">1</text>
<text x="583.16" y="477.50" font-size="39.28" font-style="italic" fill="#000" textLength="17.38" lengthAdjust="spacingAndGlyphs">c</text>
<text x="599.97" y="482.66" font-size="28.92" fill="#000" textLength="14.65" lengthAdjust="spacingAndGlyphs">3</text>
<line x1="630.70" y1="462.90" x2="657.20" y2="462.90" stroke="#000" stroke-width="1.701"/>
<line x1="630.70" y1="470.40" x2="657.20" y2="470.40" stroke="#000" stroke-width="1.701"/>
<line x1="675.70" y1="466.60" x2="700.30" y2="466.60" stroke="#000" stroke-width="1.701"/>
<text x="704.32" y="477.20" font-size="42.12" fill="#000" textLength="69.70" lengthAdjust="spacingAndGlyphs">4.14</text>
<line x1="776.00" y1="453.20" x2="795.00" y2="453.20" stroke="#000" stroke-width="1.3097699999999999"/>
<line x1="785.50" y1="443.70" x2="785.50" y2="462.70" stroke="#000" stroke-width="1.3097699999999999"/>
<text x="796.29" y="461.00" font-size="30.90" fill="#000" textLength="51.74" lengthAdjust="spacingAndGlyphs">3.20</text>
<line x1="776.30" y1="480.50" x2="794.50" y2="480.50" stroke="#000" stroke-width="1.3097699999999999"/>
<text x="796.39" y="488.10" font-size="30.90" fill="#000" textLength="52.31" lengthAdjust="spacingAndGlyphs">2.61</text>
<path d="M873.45,446.95 H868.30 V485.75 H873.45" fill="none" stroke="#000" stroke-width="1.70"/>
<path d="M991.05,446.95 H996.20 V485.75 H991.05" fill="none" stroke="#000" stroke-width="1.70"/>
<text x="873.88" y="477.00" font-size="44.55" fill="#000" textLength="30.22" lengthAdjust="spacingAndGlyphs">G</text>
<text x="903.93" y="476.70" font-size="40.50" fill="#000" textLength="18.95" lengthAdjust="spacingAndGlyphs">e</text>
<text x="922.65" y="477.00" font-size="42.93" fill="#000" textLength="28.80" lengthAdjust="spacingAndGlyphs">V</text>
<line x1="954.30" y1="449.30" x2="972.30" y2="449.30" stroke="#000" stroke-width="1.3097699999999999"/>
<text x="975.25" y="455.80" font-size="28.92" fill="#000" textLength="12.78" lengthAdjust="spacingAndGlyphs">1</text>
<g transform="translate(146.99,997.70) rotate(-45)">
<line x1="3.30" y1="-10.20" x2="27.80" y2="-10.20" stroke="#000" stroke-width="1.62"/>
<text x="29.10" y="0.00" font-size="41.72" fill="#000" textLength="52.66" lengthAdjust="spacingAndGlyphs">1.6</text>
</g>
<g transform="translate(234.55,997.70) rotate(-45)">
<line x1="3.30" y1="-10.20" x2="27.80" y2="-10.20" stroke="#000" stroke-width="1.62"/>
<text x="29.01" y="0.00" font-size="41.72" fill="#000" textLength="53.87" lengthAdjust="spacingAndGlyphs">1.2</text>
</g>
<g transform="translate(322.11,997.70) rotate(-45)">
<line x1="3.30" y1="-10.20" x2="27.80" y2="-10.20" stroke="#000" stroke-width="1.62"/>
<text x="31.25" y="0.00" font-size="41.72" fill="#000" textLength="50.80" lengthAdjust="spacingAndGlyphs">0.8</text>
</g>
<g transform="translate(409.67,997.70) rotate(-45)">
<line x1="3.30" y1="-10.20" x2="27.80" y2="-10.20" stroke="#000" stroke-width="1.62"/>
<text x="31.28" y="0.00" font-size="41.72" fill="#000" textLength="49.84" lengthAdjust="spacingAndGlyphs">0.4</text>
</g>
<g transform="translate(509.78,975.70) rotate(-45)">
<text x="0.15" y="0.00" font-size="41.72" fill="#000" textLength="50.80" lengthAdjust="spacingAndGlyphs">0.0</text>
</g>
<g transform="translate(649.78,975.70) rotate(-45)">
<line x1="3.30" y1="-10.20" x2="27.80" y2="-10.20" stroke="#000" stroke-width="1.62"/>
<text x="31.13" y="0.00" font-size="41.72" fill="#000" textLength="19.43" lengthAdjust="spacingAndGlyphs">6</text>
</g>
<g transform="translate(95.00,875.62) rotate(-45)">
<line x1="3.30" y1="-10.20" x2="27.80" y2="-10.20" stroke="#000" stroke-width="1.62"/>
<text x="31.13" y="0.00" font-size="41.72" fill="#000" textLength="19.43" lengthAdjust="spacingAndGlyphs">6</text>
</g>
<g transform="translate(751.32,975.70) rotate(-45)">
<line x1="3.30" y1="-10.20" x2="27.80" y2="-10.20" stroke="#000" stroke-width="1.62"/>
<text x="32.10" y="0.00" font-size="41.72" fill="#000" textLength="17.86" lengthAdjust="spacingAndGlyphs">4</text>
</g>
<g transform="translate(95.00,774.28) rotate(-45)">
<line x1="3.30" y1="-10.20" x2="27.80" y2="-10.20" stroke="#000" stroke-width="1.62"/>
<text x="32.10" y="0.00" font-size="41.72" fill="#000" textLength="17.86" lengthAdjust="spacingAndGlyphs">4</text>
</g>
<g transform="translate(852.86,975.70) rotate(-45)">
<line x1="3.30" y1="-10.20" x2="27.80" y2="-10.20" stroke="#000" stroke-width="1.62"/>
<text x="30.98" y="0.00" font-size="41.72" fill="#000" textLength="20.70" lengthAdjust="spacingAndGlyphs">2</text>
</g>
<g transform="translate(95.00,672.94) rotate(-45)">
<line x1="3.30" y1="-10.20" x2="27.80" y2="-10.20" stroke="#000" stroke-width="1.62"/>
<text x="30.98" y="0.00" font-size="41.72" fill="#000" textLength="20.70" lengthAdjust="spacingAndGlyphs">2</text>
</g>
<g transform="translate(966.55,953.70) rotate(-45)">
<text x="0.21" y="0.00" font-size="41.72" fill="#000" textLength="19.58" lengthAdjust="spacingAndGlyphs">0</text>
</g>
<g transform="translate(117.50,549.60) rotate(-45)">
<text x="0.21" y="0.00" font-size="41.72" fill="#000" textLength="19.58" lengthAdjust="spacingAndGlyphs">0</text>
</g>
</svg>
</body></html>
